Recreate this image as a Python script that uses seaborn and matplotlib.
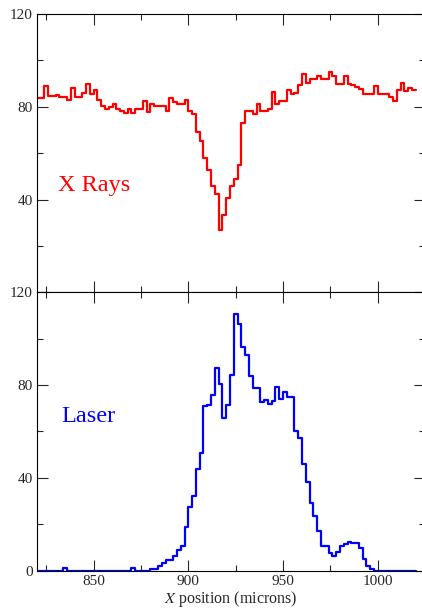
import numpy as np
import pandas as pd
import matplotlib
matplotlib.use('Agg')
import matplotlib.pyplot as plt
from matplotlib.ticker import MultipleLocator
import seaborn as sns

# binned profiles, 2 micron bins starting at 820
bin_start = 820
bin_width = 2

xray_counts = [
    84, 84, 89, 84.5, 84.5, 85.2, 84.3, 84.3, 83.0, 88.0,
    84.3, 84.3, 86.0, 89.9, 85.5, 87.3, 83.0, 80.5, 79.0, 79.7,
    81.0, 79.0, 78.3, 77.3, 79.0, 77.3, 79.0, 79.0, 82.6, 77.8,
    81.0, 80.3, 80.3, 80.3, 78.4, 84.0, 82.2, 81.0, 81.0, 82.8,
    78.0, 77.1, 69.0, 65.2, 58.0, 52.6, 45.7, 42.5, 26.8, 33.3,
    40.6, 45.7, 48.8, 54.8, 73.2, 78.2, 78.2, 76.8, 81.0, 78.0,
    78.0, 79.0, 86.2, 81.2, 82.3, 82.3, 87.3, 85.5, 86.0, 89.6,
    94.2, 90.1, 92.0, 92.0, 93.2, 92.0, 92.0, 94.9, 93.2, 89.9,
    89.9, 93.2, 89.9, 89.4, 88.7, 87.7, 85.5, 85.5, 85.5, 89.1,
    85.5, 85.5, 85.5, 84.3, 82.3, 87.3, 90.1, 86.8, 87.9, 87.3,
]

laser_counts = [
    0, 0, 0, 0, 0, 0, 0, 1, 0, 0,
    0, 0, 0, 0, 0, 0, 0, 0, 0, 0,
    0, 0, 0, 0, 0, 1, 0, 0, 0, 0,
    0.5, 0.5, 2, 3.3, 4.7, 4.7, 6.2, 9.0, 10.5, 18.8,
    27.4, 32.3, 43.8, 50.7, 70.8, 71.5, 75.6, 87.3, 80.4, 65.8,
    71.5, 84.4, 110.7, 106.3, 96.6, 93.0, 83.7, 78.6, 78.6, 72.6,
    73.6, 71.8, 73.3, 79.0, 74.0, 77.1, 74.7, 74.7, 60.3, 57.3,
    45.8, 38.3, 29.3, 23.6, 17.0, 10.6, 10.6, 7.7, 6.3, 8.1,
    10.6, 11.4, 12.4, 11.7, 11.7, 9.6, 4.8, 2.0, 0.8, 0,
    0, 0, 0, 0, 0, 0, 0, 0, 0, 0,
]

panel_labels = ['X Rays', 'Laser']
colors = ['#ff0000', '#0000ff']

sns.set_style('ticks')
plt.rcParams['font.family'] = ['Liberation Serif', 'DejaVu Serif']
plt.rcParams['mathtext.fontset'] = 'stix'


def step_frame(counts):
    edges = bin_start + bin_width * np.arange(len(counts) + 1)
    return pd.DataFrame({'x': edges, 'y': list(counts) + [counts[-1]]})


fig = plt.figure(figsize=(4.22, 6.10), dpi=100)
ax_top = fig.add_axes([0.087, 0.5208, 0.9206, 0.4562])
ax_bot = fig.add_axes([0.087, 0.06475, 0.9206, 0.4561])

for ax, counts, label, color in zip([ax_top, ax_bot], [xray_counts, laser_counts],
                                    panel_labels, colors):
    sns.lineplot(data=step_frame(counts), x='x', y='y', ax=ax, color=color,
                 drawstyle='steps-post', linewidth=1.6, estimator=None)
    ax.set_xlim(820, 1025)
    ax.set_ylim(0, 120)
    ax.xaxis.set_major_locator(MultipleLocator(50))
    ax.xaxis.set_minor_locator(MultipleLocator(25))
    ax.yaxis.set_major_locator(MultipleLocator(40))
    ax.yaxis.set_minor_locator(MultipleLocator(20))
    ax.tick_params(which='both', direction='in', top=True, right=True,
                   width=0.8, labelsize=11, pad=3)
    ax.tick_params(which='major', length=8)
    ax.tick_params(which='minor', length=4)
    for sp in ax.spines.values():
        sp.set_linewidth(0.8)
        sp.set_color('black')
    ax.set_ylabel('')
    ax.set_xlabel('')

ax_top.text(831.4, 43.8, panel_labels[0], color=colors[0], fontsize=17.5,
            ha='left', va='baseline')
ax_bot.text(832.7, 63.9, panel_labels[1], color=colors[1], fontsize=17.5,
            ha='left', va='baseline')

ax_top.set_xticklabels([])
ax_top.set_yticks([0, 40, 80, 120])
ax_top.set_yticklabels(['', '40', '80', '120'])
ax_bot.set_xlabel('$X$ position (microns)', fontsize=11.5, labelpad=1)

fig.savefig('out.png', dpi=100)
